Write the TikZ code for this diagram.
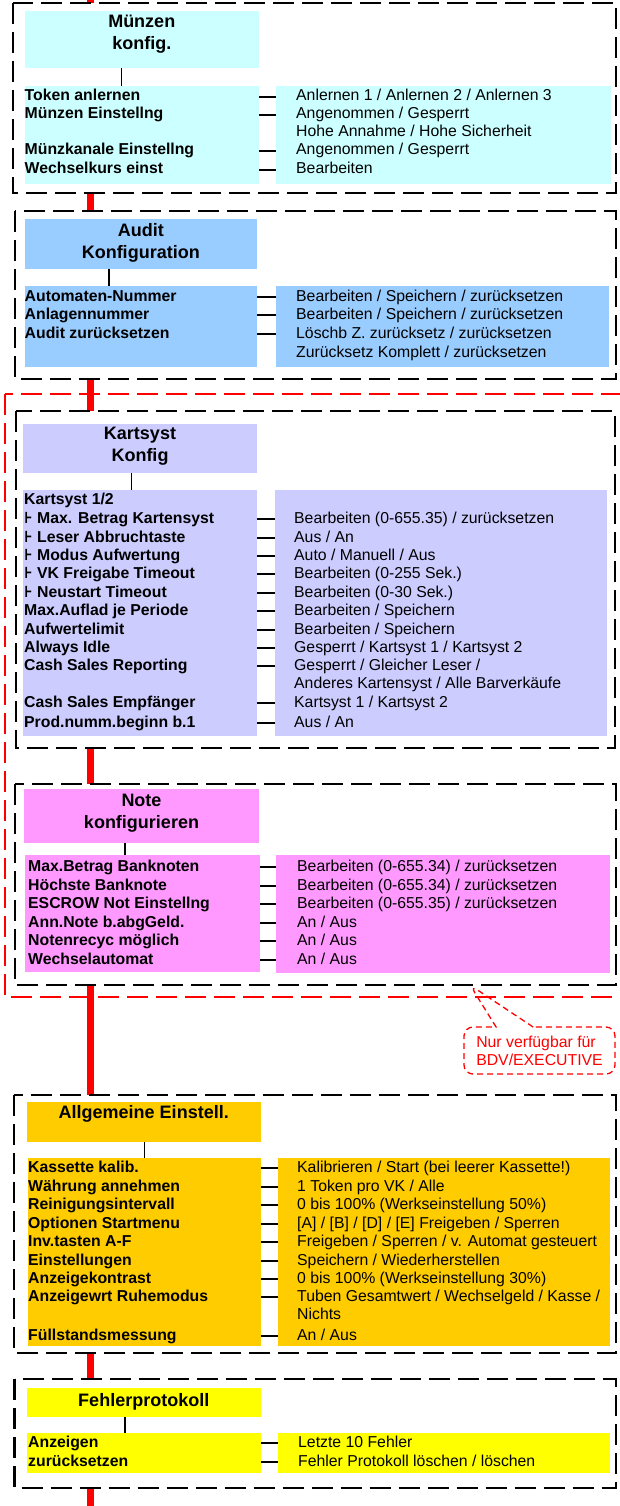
\documentclass[tikz,border=0pt]{standalone}
\usepackage{fontspec}
\setmainfont{Liberation Sans}
\newfontfamily\symfont{DejaVu Sans}
\usepackage{tikz}
\usetikzlibrary{calc}
\usetikzlibrary{positioning}
\usetikzlibrary{shapes.callouts}
\definecolor{coincyan}{RGB}{204, 255, 255}
\definecolor{auditblue}{RGB}{153, 204, 255}
\definecolor{cardlilac}{RGB}{204, 204, 255}
\definecolor{notepink}{RGB}{255, 153, 255}
\definecolor{generalgold}{RGB}{255, 204, 0}
\definecolor{errorsyellow}{RGB}{255, 255, 0}
\definecolor{signalred}{RGB}{255, 0, 0}

\tikzset{
  menuframe/.style={draw=black, fill=white, line width=2.3pt, dash pattern=on 21pt off 8pt},
  optframe/.style={draw=signalred, line width=2.3pt, dash pattern=on 21pt off 8pt},
  panel/.style={anchor=north west, inner sep=0pt, draw=none},
  titletext/.style={inner sep=0pt, align=center, font=\bfseries\fontsize{18}{22}\selectfont},
  menuitem/.style={anchor=west, inner sep=0pt, text height=11pt, text depth=3pt,
                   font=\bfseries\fontsize{15.8}{18.5}\selectfont},
  menuvalue/.style={anchor=west, inner sep=0pt, text height=11pt, text depth=3pt,
                    font=\fontsize{15.8}{18.5}\selectfont},
  menulink/.style={draw=black, line width=1.4pt}
}

\begin{document}
\begin{tikzpicture}[x=1pt, y=-1pt]
  \useasboundingbox (0,0) rectangle (619,1506);
  \draw[signalred, line width=7pt] (90.5,0) -- (90.5,1506);

  % Muenzen
  \filldraw[menuframe] (13,3) rectangle (616,193);
  \node[panel, fill=coincyan, minimum width=234.5pt, minimum height=57pt] (muT) at (24.5,11) {};
  \node[titletext] (muTt) at (141.75,34) {Münzen\\konfig.};
  \node[panel, fill=coincyan, minimum width=234.5pt, minimum height=98pt] (muL) at (24.5,86) {};
  \node[panel, fill=coincyan, minimum width=335pt, minimum height=98pt] (muR) at (276,86) {};
  \coordinate (muC) at (121.6,0);
  \draw[menulink] (muT.south -| muC) -- (muL.north -| muC);
  \node[menuitem] (muI1) at (24.5,97) {Token anlernen};
  \node[menuitem] (muI2) at (24.5,115) {Münzen Einstellng};
  \node[menuitem] (muI3) at (24.5,151) {Münzkanale Einstellng};
  \node[menuitem] (muI4) at (24.5,170) {Wechselkurs einst};
  \node[menuvalue] (muV1) at (296,97) {Anlernen 1 / Anlernen 2 / Anlernen 3};
  \node[menuvalue] (muV2) at (296,115) {Angenommen / Gesperrt};
  \node[menuvalue] (muV2b) at (296,133) {Hohe Annahme / Hohe Sicherheit};
  \node[menuvalue] (muV3) at (296,151) {Angenommen / Gesperrt};
  \node[menuvalue] (muV4) at (296,170) {Bearbeiten};
  \draw[menulink] (muL.east |- muI1) -- (muR.west |- muI1);
  \draw[menulink] (muL.east |- muI2) -- (muR.west |- muI2);
  \draw[menulink] (muL.east |- muI3) -- (muR.west |- muI3);
  \draw[menulink] (muL.east |- muI4) -- (muR.west |- muI4);

  % Audit
  \filldraw[menuframe] (15,211) rectangle (616,379);
  \node[panel, fill=auditblue, minimum width=232.5pt, minimum height=50pt] (auT) at (24.5,219) {};
  \node[titletext] (auTt) at (140.75,243) {Audit\\Konfiguration};
  \node[panel, fill=auditblue, minimum width=232.5pt, minimum height=81pt] (auL) at (24.5,286) {};
  \node[panel, fill=auditblue, minimum width=333pt, minimum height=81pt] (auR) at (276,286) {};
  \coordinate (auC) at (109,0);
  \draw[menulink] (auT.south -| auC) -- (auL.north -| auC);
  \node[menuitem] (auI1) at (24.5,297) {Automaten-Nummer};
  \node[menuitem] (auI2) at (24.5,315) {Anlagennummer};
  \node[menuitem] (auI3) at (24.5,334) {Audit zurücksetzen};
  \node[menuvalue] (auV1) at (296,297) {Bearbeiten / Speichern / zurücksetzen};
  \node[menuvalue] (auV2) at (296,315) {Bearbeiten / Speichern / zurücksetzen};
  \node[menuvalue] (auV3) at (296,334) {Löschb Z. zurücksetz / zurücksetzen};
  \node[menuvalue] (auV3b) at (296,353) {Zurücksetz Komplett / zurücksetzen};
  \draw[menulink] (auL.east |- auI1) -- (auR.west |- auI1);
  \draw[menulink] (auL.east |- auI2) -- (auR.west |- auI2);
  \draw[menulink] (auL.east |- auI3) -- (auR.west |- auI3);

  % nur BDV/EXECUTIVE
  \draw[optframe] (5,394) rectangle (624,997);

  % Kartsyst
  \filldraw[menuframe] (16,411) rectangle (615,748);
  \node[panel, fill=cardlilac, minimum width=234pt, minimum height=49pt] (kaT) at (23,424) {};
  \node[titletext] (kaTt) at (140,446) {Kartsyst\\Konfig};
  \node[panel, fill=cardlilac, minimum width=234pt, minimum height=246pt] (kaL) at (23,490) {};
  \node[panel, fill=cardlilac, minimum width=332pt, minimum height=246pt] (kaR) at (275,490) {};
  \coordinate (kaC) at (131.5,0);
  \draw[menulink] (kaT.south -| kaC) -- (kaL.north -| kaC);
  \node[menuitem] (kaI0) at (24,500) {Kartsyst 1/2};
  \node[menuitem] (kaI1) at (24,519) {{\symfont ⊦} Max. Betrag Kartensyst};
  \node[menuitem] (kaI2) at (24,538) {{\symfont ⊦} Leser Abbruchtaste};
  \node[menuitem] (kaI3) at (24,556) {{\symfont ⊦} Modus Aufwertung};
  \node[menuitem] (kaI4) at (24,574) {{\symfont ⊦} VK Freigabe Timeout};
  \node[menuitem] (kaI5) at (24,593) {{\symfont ⊦} Neustart Timeout};
  \node[menuitem] (kaI6) at (24,611) {Max.Auflad je Periode};
  \node[menuitem] (kaI7) at (24,630) {Aufwertelimit};
  \node[menuitem] (kaI8) at (24,648) {Always Idle};
  \node[menuitem] (kaI9) at (24,666) {Cash Sales Reporting};
  \node[menuitem] (kaI10) at (24,703) {Cash Sales Empfänger};
  \node[menuitem] (kaI11) at (24,723) {Prod.numm.beginn b.1};
  \node[menuvalue] (kaV1) at (294,519) {Bearbeiten (0-655.35) / zurücksetzen};
  \node[menuvalue] (kaV2) at (294,538) {Aus / An};
  \node[menuvalue] (kaV3) at (294,556) {Auto / Manuell / Aus};
  \node[menuvalue] (kaV4) at (294,574) {Bearbeiten (0-255 Sek.)};
  \node[menuvalue] (kaV5) at (294,593) {Bearbeiten (0-30 Sek.)};
  \node[menuvalue] (kaV6) at (294,611) {Bearbeiten / Speichern};
  \node[menuvalue] (kaV7) at (294,630) {Bearbeiten / Speichern};
  \node[menuvalue] (kaV8) at (294,648) {Gesperrt / Kartsyst 1 / Kartsyst 2};
  \node[menuvalue] (kaV9) at (294,666) {Gesperrt / Gleicher Leser /};
  \node[menuvalue] (kaV9b) at (294,684) {Anderes Kartensyst / Alle Barverkäufe};
  \node[menuvalue] (kaV10) at (294,703) {Kartsyst 1 / Kartsyst 2};
  \node[menuvalue] (kaV11) at (294,723) {Aus / An};
  \foreach \i in {1,...,11}
    \draw[menulink] (kaL.east |- kaI\i) -- (kaR.west |- kaI\i);

  % Note
  \filldraw[menuframe] (15,784) rectangle (616,985);
  \node[panel, fill=notepink, minimum width=235pt, minimum height=54pt] (noT) at (24,789) {};
  \node[titletext] (noTt) at (141.5,813) {Note\\konfigurieren};
  \node[panel, fill=notepink, minimum width=235pt, minimum height=117pt] (noL) at (25,855) {};
  \node[panel, fill=notepink, minimum width=334pt, minimum height=118pt] (noR) at (276,855) {};
  \coordinate (noC) at (125,0);
  \draw[menulink] (noT.south -| noC) -- (noL.north -| noC);
  \node[menuitem] (noI1) at (28,867) {Max.Betrag Banknoten};
  \node[menuitem] (noI2) at (28,886) {Höchste Banknote};
  \node[menuitem] (noI3) at (28,904) {ESCROW Not Einstellng};
  \node[menuitem] (noI4) at (28,923) {Ann.Note b.abgGeld.};
  \node[menuitem] (noI5) at (28,941) {Notenrecyc möglich};
  \node[menuitem] (noI6) at (28,960) {Wechselautomat};
  \node[menuvalue] (noV1) at (297,867) {Bearbeiten (0-655.34) / zurücksetzen};
  \node[menuvalue] (noV2) at (297,886) {Bearbeiten (0-655.34) / zurücksetzen};
  \node[menuvalue] (noV3) at (297,904) {Bearbeiten (0-655.35) / zurücksetzen};
  \node[menuvalue] (noV4) at (297,923) {An / Aus};
  \node[menuvalue] (noV5) at (297,941) {An / Aus};
  \node[menuvalue] (noV6) at (297,960) {An / Aus};
  \foreach \i in {1,...,6}
    \draw[menulink] (noL.east |- noI\i) -- (noR.west |- noI\i);

  % Allgemeine
  \filldraw[menuframe] (14,1095) rectangle (616,1353);
  \node[panel, fill=generalgold, minimum width=233.5pt, minimum height=40pt] (geT) at (27,1102) {};
  \node[titletext] (geTt) at (143.75,1114) {Allgemeine Einstell.};
  \node[panel, fill=generalgold, minimum width=233.5pt, minimum height=188pt] (geL) at (27.5,1158) {};
  \node[panel, fill=generalgold, minimum width=332.5pt, minimum height=188pt] (geR) at (277.5,1158) {};
  \coordinate (geC) at (144.5,0);
  \draw[menulink] (geT.south -| geC) -- (geL.north -| geC);
  \node[menuitem] (geI1) at (28,1168) {Kassette kalib.};
  \node[menuitem] (geI2) at (28,1187) {Währung annehmen};
  \node[menuitem] (geI3) at (28,1205) {Reinigungsintervall};
  \node[menuitem] (geI4) at (28,1224) {Optionen Startmenu};
  \node[menuitem] (geI5) at (28,1242) {Inv.tasten A-F};
  \node[menuitem] (geI6) at (28,1261) {Einstellungen};
  \node[menuitem] (geI7) at (28,1279) {Anzeigekontrast};
  \node[menuitem] (geI8) at (28,1297) {Anzeigewrt Ruhemodus};
  \node[menuitem] (geI9) at (28,1336) {Füllstandsmessung};
  \node[menuvalue] (geV1) at (297,1168) {Kalibrieren / Start (bei leerer Kassette!)};
  \node[menuvalue] (geV2) at (297,1187) {1 Token pro VK / Alle};
  \node[menuvalue] (geV3) at (297,1205) {0 bis 100\% (Werkseinstellung 50\%)};
  \node[menuvalue] (geV4) at (297,1224) {[A] / [B] / [D] / [E] Freigeben / Sperren};
  \node[menuvalue] (geV5) at (297,1242) {Freigeben / Sperren / v. Automat gesteuert};
  \node[menuvalue] (geV6) at (297,1261) {Speichern / Wiederherstellen};
  \node[menuvalue] (geV7) at (297,1279) {0 bis 100\% (Werkseinstellung 30\%)};
  \node[menuvalue] (geV8) at (297,1297) {Tuben Gesamtwert / Wechselgeld / Kasse /};
  \node[menuvalue] (geV8b) at (297,1315) {Nichts};
  \node[menuvalue] (geV9) at (297,1336) {An / Aus};
  \foreach \i in {1,...,9}
    \draw[menulink] (geL.east |- geI\i) -- (geR.west |- geI\i);

  % Fehlerprotokoll
  \filldraw[menuframe] (14.5,1379) rectangle (616,1488);
  \node[panel, fill=errorsyellow, minimum width=233.5pt, minimum height=29pt] (feT) at (27,1388) {};
  \node[titletext] (feTt) at (143.75,1402) {Fehlerprotokoll};
  \node[panel, fill=errorsyellow, minimum width=234pt, minimum height=40pt] (feL) at (27,1433) {};
  \node[panel, fill=errorsyellow, minimum width=332pt, minimum height=40pt] (feR) at (278,1433) {};
  \coordinate (feC) at (125,0);
  \draw[menulink] (feT.south -| feC) -- (feL.north -| feC);
  \node[menuitem] (feI1) at (28,1443) {Anzeigen};
  \node[menuitem] (feI2) at (28,1462) {zurücksetzen};
  \node[menuvalue] (feV1) at (298,1443) {Letzte 10 Fehler};
  \node[menuvalue] (feV2) at (298,1462) {Fehler Protokoll löschen / löschen};
  \draw[menulink] (feL.east |- feI1) -- (feR.west |- feI1);
  \draw[menulink] (feL.east |- feI2) -- (feR.west |- feI2);

  % Hinweis
  \coordinate (calTip) at (470,985);
  \node[rectangle callout, callout absolute pointer={(calTip)}, callout pointer width=37pt,
        draw=signalred, line width=1.3pt, dash pattern=on 6pt off 4pt, rounded corners=9pt,
        minimum width=151pt, minimum height=47pt, inner sep=0pt, text=signalred, align=left,
        font=\fontsize{15.8}{18}\selectfont] (calNote) at (539.5,1050.5)
        {Nur verfügbar für\\BDV/EXECUTIVE};
\end{tikzpicture}
\end{document}
